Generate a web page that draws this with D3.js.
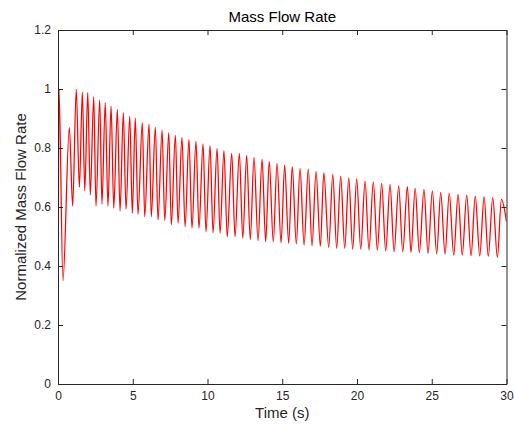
<!DOCTYPE html>
<html>
<head>
<meta charset="utf-8">
<script src="https://cdn.jsdelivr.net/npm/d3@7"></script>
<style>
  html, body { margin: 0; padding: 0; background: #ffffff; }
  svg { display: block; font-family: "Liberation Sans", Arial, Helvetica, sans-serif; }
</style>
</head>
<body>
<svg id="chart" width="514" height="429"></svg>
<script>
// ---- data ----
const title = "Mass Flow Rate";
const xLabel = "Time (s)";
const yLabel = "Normalized Mass Flow Rate";
const xTicks = [0, 5, 10, 15, 20, 25, 30];
const yTicks = [0, 0.2, 0.4, 0.6, 0.8, 1, 1.2];

// first and last sample of the trace
const edgeT = [0, 30];
const edgeV = [0, 0.55];

// local maxima (time, value)
const peakT = [0.07, 0.76, 1.22, 1.63, 1.99, 2.39, 2.79, 3.16, 3.55, 3.97, 4.37, 4.80, 5.17,
  5.64, 6.09, 6.51, 6.96, 7.41, 7.85, 8.29, 8.76, 9.23, 9.70, 10.17, 10.64, 11.10, 11.62,
  12.13, 12.62, 13.11, 13.65, 14.13, 14.65, 15.16, 15.67, 16.19, 16.74, 17.26, 17.78,
  18.38, 18.91, 19.45, 19.98, 20.54, 21.09, 21.65, 22.21, 22.79, 23.37, 23.89,
  24.48, 25.04, 25.60, 26.17, 26.76, 27.34, 27.91, 28.50, 29.08, 29.66];
const peakV = [1.0, 0.869, 0.999, 0.989, 0.988, 0.974, 0.963, 0.954, 0.942, 0.931, 0.920, 0.908, 0.902,
  0.886, 0.881, 0.870, 0.861, 0.852, 0.844, 0.836, 0.829, 0.823, 0.814, 0.808, 0.799, 0.791, 0.783,
  0.782, 0.775, 0.768, 0.762, 0.755, 0.748, 0.742, 0.737, 0.731, 0.728, 0.720, 0.716,
  0.711, 0.705, 0.699, 0.695, 0.688, 0.685, 0.680, 0.677, 0.672, 0.669, 0.663,
  0.660, 0.655, 0.650, 0.646, 0.643, 0.640, 0.637, 0.635, 0.632, 0.626];

// local minima (time, value)
const troughT = [0.33, 0.98, 1.43, 1.79, 2.16, 2.54, 2.94, 3.34, 3.73, 4.15, 4.55, 4.97, 5.35,
  5.80, 6.24, 6.69, 7.14, 7.58, 8.03, 8.50, 8.96, 9.43, 9.90, 10.37, 10.84, 11.32, 11.84,
  12.36, 12.86, 13.38, 13.89, 14.40, 14.92, 15.43, 15.94, 16.46, 16.99, 17.55,
  18.11, 18.64, 19.18, 19.71, 20.25, 20.80, 21.36, 21.92, 22.48, 23.06, 23.61,
  24.17, 24.75, 25.33, 25.89, 26.47, 27.04, 27.63, 28.21, 28.78, 29.39];
const troughV = [0.35, 0.603, 0.667, 0.655, 0.641, 0.603, 0.610, 0.603, 0.596, 0.586, 0.592, 0.579, 0.575,
  0.567, 0.567, 0.556, 0.554, 0.539, 0.545, 0.533, 0.528, 0.528, 0.516, 0.513, 0.511, 0.499, 0.499,
  0.494, 0.490, 0.486, 0.482, 0.482, 0.479, 0.477, 0.475, 0.471, 0.468, 0.467,
  0.463, 0.460, 0.460, 0.457, 0.457, 0.454, 0.454, 0.451, 0.448, 0.448, 0.446,
  0.445, 0.443, 0.441, 0.440, 0.437, 0.437, 0.435, 0.434, 0.433, 0.429];

// ---- build the series ----
const pts = [];
edgeT.forEach((t, i) => pts.push({ t, v: edgeV[i] }));
peakT.forEach((t, i) => pts.push({ t, v: peakV[i] }));
troughT.forEach((t, i) => pts.push({ t, v: troughV[i] }));
pts.sort((a, b) => a.t - b.t);

// ---- layout ----
const svg = d3.select("#chart");
const L = 58, R = 506.5, T = 30, B = 384;
const axisColor = "#262626";

const x = d3.scaleLinear().domain([0, 30]).range([L, R]);
const y = d3.scaleLinear().domain([0, 1.2]).range([B, T]);

svg.append("rect").attr("x", 0).attr("y", 0).attr("width", 514).attr("height", 429).attr("fill", "#ffffff");

// plot line
const line = d3.line()
  .x(d => x(d.t))
  .y(d => y(d.v))
  .curve(d3.curveMonotoneX);

svg.append("defs").append("clipPath").attr("id", "clip")
  .append("rect").attr("x", L).attr("y", T).attr("width", R - L).attr("height", B - T);

svg.append("path")
  .datum(pts)
  .attr("clip-path", "url(#clip)")
  .attr("fill", "none")
  .attr("stroke", "#ff0000")
  .attr("stroke-width", 1.25)
  .attr("stroke-linejoin", "round")
  .attr("d", line);

// axes
const fmtY = d => d3.format("")(+d.toFixed(1));
const tickLen = 5;

const gB = svg.append("g").attr("transform", `translate(0,${B})`)
  .call(d3.axisBottom(x).tickValues(xTicks).tickSizeInner(-tickLen).tickSizeOuter(0).tickPadding(7));
const gT = svg.append("g").attr("transform", `translate(0,${T})`)
  .call(d3.axisTop(x).tickValues(xTicks).tickSizeInner(-tickLen).tickSizeOuter(0).tickFormat(""));
const gL = svg.append("g").attr("transform", `translate(${L},0)`)
  .call(d3.axisLeft(y).tickValues(yTicks).tickSizeInner(-tickLen).tickSizeOuter(0).tickPadding(7).tickFormat(fmtY));
const gR = svg.append("g").attr("transform", `translate(${R},0)`)
  .call(d3.axisRight(y).tickValues(yTicks).tickSizeInner(-tickLen).tickSizeOuter(0).tickFormat(""));

[gB, gT, gL, gR].forEach(g => {
  g.selectAll("path.domain").attr("stroke", axisColor).attr("stroke-width", 1);
  g.selectAll(".tick line").attr("stroke", axisColor).attr("stroke-width", 1);
  g.selectAll(".tick text").attr("fill", axisColor).style("font-size", "12px")
    .style("font-family", "'Liberation Sans', Arial, Helvetica, sans-serif");
});

// title and labels
svg.append("text")
  .attr("x", (L + R) / 2).attr("y", 22)
  .attr("text-anchor", "middle")
  .attr("fill", "#000000")
  .style("font-size", "15px")
  .text(title);

svg.append("text")
  .attr("x", (L + R) / 2).attr("y", 418)
  .attr("text-anchor", "middle")
  .attr("fill", axisColor)
  .style("font-size", "15px")
  .text(xLabel);

svg.append("text")
  .attr("transform", `translate(26,${(T + B) / 2}) rotate(-90)`)
  .attr("text-anchor", "middle")
  .attr("fill", axisColor)
  .style("font-size", "15px")
  .text(yLabel);
</script>
</body>
</html>
